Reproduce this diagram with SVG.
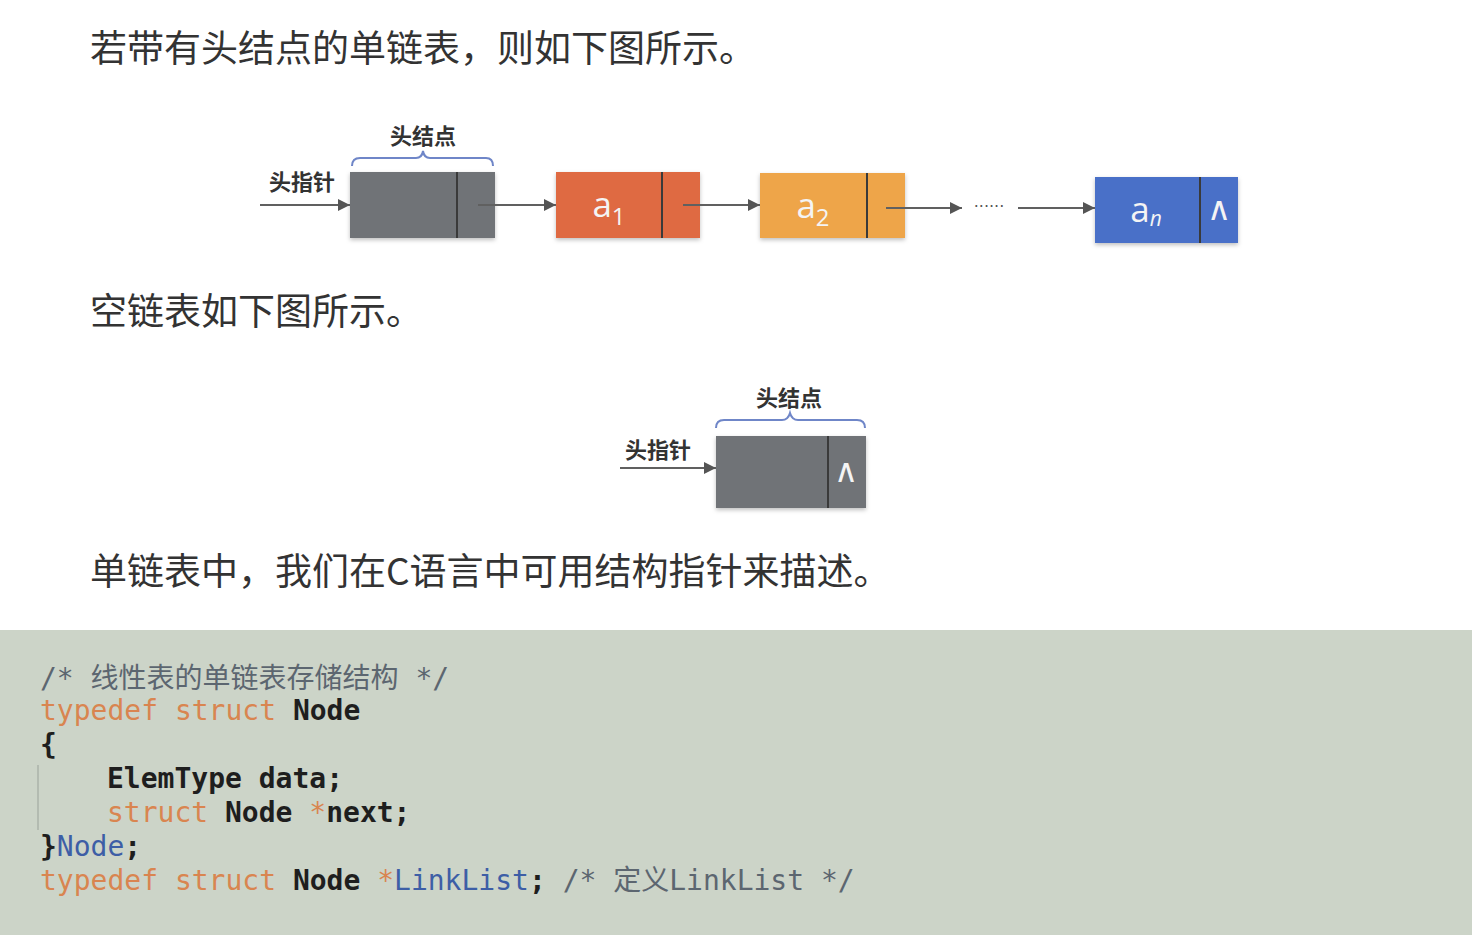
<svg xmlns="http://www.w3.org/2000/svg" width="1472" height="935" viewBox="0 0 1472 935">
<defs>
<marker id="arr" viewBox="0 0 10 10" refX="10" refY="5" markerWidth="13" markerHeight="12" markerUnits="userSpaceOnUse" orient="auto">
<path d="M0,0 L10,5 L0,10 z" fill="#555"/>
</marker>
<filter id="sh" x="-10%" y="-10%" width="120%" height="130%">
<feDropShadow dx="0" dy="2" stdDeviation="2" flood-color="#000" flood-opacity="0.25"/>
</filter>
</defs>
<style>
.body{font-family:"Noto Sans CJK SC","Noto Sans",sans-serif;font-size:37px;fill:#333}
.lbl{font-family:"Noto Sans CJK SC",sans-serif;font-size:22px;font-weight:bold;fill:#333}
.conn line{stroke:#606060;stroke-width:2}
.brace{fill:none;stroke:#6f86c8;stroke-width:2}
.div{stroke:#3a3a3a;stroke-width:2}
.val{font-family:"Open Sans","DejaVu Sans",sans-serif;font-size:35px;fill:#f4f4f4}
.sub{font-size:24px}
.nil{font-family:"DejaVu Sans",sans-serif;font-size:33px;fill:#f4f4f4}
.code{font-family:"DejaVu Sans Mono","Noto Sans CJK SC",monospace;font-size:28px;font-weight:bold;fill:#1e1e1e}
.cm{fill:#5c6670;font-weight:normal}
.kw{fill:#d98550;font-weight:normal}
.bl{fill:#3d5ea6;font-weight:normal}
.st{fill:#d98550;font-weight:normal}
</style>
<rect width="1472" height="935" fill="#ffffff"/>
<rect x="0" y="630" width="1472" height="305" fill="#ccd4c8"/>

<text class="body" x="90" y="62">若带有头结点的单链表，则如下图所示。</text>
<text class="body" x="90" y="325">空链表如下图所示。</text>
<text class="body" x="90" y="585">单链表中，我们在C语言中可用结构指针来描述。</text>

<g id="labels1">
<text class="lbl" x="423" y="144" text-anchor="middle">头结点</text>
<path class="brace" d="M352,166 Q352,158 360,158 L416,158 Q422,158 423,151 Q424,158 430,158 L486,158 Q493,158 493,166"/>
<text class="lbl" x="302" y="190" text-anchor="middle">头指针</text>
</g>

<g id="head1">
<rect x="350" y="172" width="145" height="66" fill="#707377" filter="url(#sh)"/>
<line class="div" x1="457" y1="172" x2="457" y2="238"/>
</g>
<g id="a1">
<rect x="556" y="172" width="144" height="66" fill="#df6a42" filter="url(#sh)"/>
<line class="div" x1="662" y1="172" x2="662" y2="238" stroke="#8a3a20"/>
<text class="val" x="609" y="217" text-anchor="middle">a<tspan class="sub" dy="8">1</tspan></text>
</g>
<g id="a2">
<rect x="760" y="173" width="145" height="65" fill="#eea549" filter="url(#sh)"/>
<line class="div" x1="867" y1="173" x2="867" y2="238" stroke="#8a5a20"/>
<text class="val" x="813" y="218" text-anchor="middle">a<tspan class="sub" dy="8">2</tspan></text>
</g>
<g id="dots">
<text x="989" y="212" text-anchor="middle" font-family="DejaVu Sans,sans-serif" font-size="16" fill="#555">······</text>
</g>
<g id="an">
<rect x="1095" y="177" width="143" height="66" fill="#4a70c8" filter="url(#sh)"/>
<line class="div" x1="1200" y1="177" x2="1200" y2="243" stroke="#2a3f78"/>
<text class="val" x="1146" y="222" text-anchor="middle">a<tspan font-size="21" font-style="italic" dy="4">n</tspan></text>
<text class="nil" x="1219" y="220" text-anchor="middle">∧</text>
</g>

<g id="labels2">
<text class="lbl" x="789" y="406" text-anchor="middle">头结点</text>
<path class="brace" d="M716,428 Q716,420 724,420 L782,420 Q788,420 790,413 Q792,420 798,420 L857,420 Q865,420 865,428"/>
<text class="lbl" x="658" y="458" text-anchor="middle">头指针</text>
</g>
<g id="head2">
<rect x="716" y="436" width="150" height="72" fill="#707377" filter="url(#sh)"/>
<line class="div" x1="828" y1="436" x2="828" y2="508" stroke="#5a5d61"/>
<text class="nil" x="846" y="482" text-anchor="middle">∧</text>
</g>

<g class="conn" id="connectors">
<line x1="260" y1="205" x2="350" y2="205" marker-end="url(#arr)"/>
<line x1="478" y1="205" x2="556" y2="205" marker-end="url(#arr)"/>
<line x1="683" y1="205" x2="760" y2="205" marker-end="url(#arr)"/>
<line x1="886" y1="208" x2="962" y2="208" marker-end="url(#arr)"/>
<line x1="1018" y1="208" x2="1095" y2="208" marker-end="url(#arr)"/>
<line x1="620" y1="468" x2="716" y2="468" marker-end="url(#arr)"/>
</g>

<g id="code">
<line x1="38" y1="765" x2="38" y2="830" stroke="#9aa29a" stroke-width="1"/>
<text class="code cm" x="40" y="688">/* 线性表的单链表存储结构 */</text>
<text class="code" x="40" y="720"><tspan class="kw">typedef</tspan> <tspan class="kw">struct</tspan> Node</text>
<text class="code" x="40" y="754">{</text>
<text class="code" x="107" y="788">ElemType data;</text>
<text class="code" x="107" y="822"><tspan class="kw">struct</tspan> Node <tspan class="st">*</tspan>next;</text>
<text class="code" x="40" y="856">}<tspan class="bl">Node</tspan>;</text>
<text class="code" x="40" y="890"><tspan class="kw">typedef</tspan> <tspan class="kw">struct</tspan> Node <tspan class="st">*</tspan><tspan class="bl">LinkList</tspan>; <tspan class="cm">/* 定义LinkList */</tspan></text>
</g>
</svg>
